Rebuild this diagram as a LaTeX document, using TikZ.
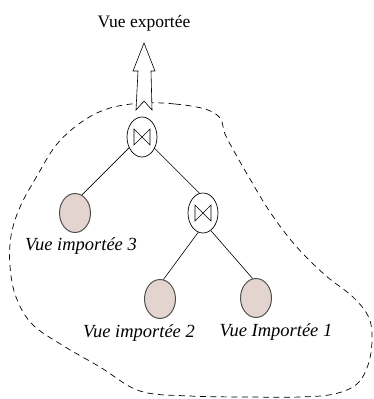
\documentclass[tikz,border=0pt]{standalone}
\usepackage{fontspec}
\setmainfont{Liberation Serif}
\usetikzlibrary{shapes.geometric}
\definecolor{viewfill}{HTML}{E3D4D0}
\definecolor{viewdraw}{HTML}{505050}
\begin{document}
\begin{tikzpicture}[x=1pt,y=-1pt,
  joinnode/.style={ellipse, draw, line width=0.7pt, minimum width=30pt, minimum height=40pt, inner sep=0pt,
    path picture={\draw[line width=0.6pt] (path picture bounding box.center) ++(-8pt,-8pt) -- ++(16pt,16pt) -- ++(0pt,-16pt) -- ++(-16pt,16pt) -- cycle;}},
  viewnode/.style={ellipse, draw=viewdraw, fill=viewfill, line width=1pt, minimum width=31pt, minimum height=39pt, inner sep=0pt},
  lbl/.style={font=\fontsize{18.5}{22}\selectfont\itshape, inner sep=0pt},
  ttl/.style={font=\fontsize{17.5}{21}\selectfont, inner sep=0pt},
  edge/.style={line width=0.6pt},
  blob/.style={line width=0.7pt, dash pattern=on 6pt off 4.5pt}
]
\useasboundingbox (0,0) rectangle (374,399);
% dashed region
\draw[blob] plot[smooth cycle, tension=0.6] coordinates {
 (143,103) (175,104) (205,109) (220,118) (225,134) (235,153) (250,179)
 (270,212) (295,245) (325,275) (353,297) (369,318) (372,341) (368,365)
 (357,384) (334,394) (300,397) (250,397) (190,396) (140,391) (100,367)
 (62,345) (32,324) (16,297) (10,266) (11,236) (20,207) (37,176) (57,144)
 (83,121) (110,108)};
% export arrow
\draw[line width=0.6pt, fill=white, line join=miter]
 (144,43) -- (155,71) -- (151,71) -- (152,110) -- (144,101) -- (136,110) -- (138,71) -- (133,71) -- cycle;
\node[ttl] (title) at (144,23) {Vue exportée};
% nodes
\node[joinnode] (j1) at (142,137) {};
\node[joinnode] (j2) at (203,213) {};
\node[viewnode] (v3) at (75,213) {};
\node[viewnode] (v2) at (160,299) {};
\node[viewnode] (v1) at (256,298) {};
% labels
\node[lbl] (l3) at (81,246) {Vue importée 3};
\node[lbl] (l2) at (139,333) {Vue importée 2};
\node[lbl] (l1) at (276,332) {Vue Importée 1};
% edges
\draw[edge] (j1.220) -- (v3.69);
\draw[edge] (j1.-42) -- (j2.100);
\draw[edge] (j2.-104) -- (v2.80);
\draw[edge] (j2.-66) -- (v1.100);
\end{tikzpicture}
\end{document}
